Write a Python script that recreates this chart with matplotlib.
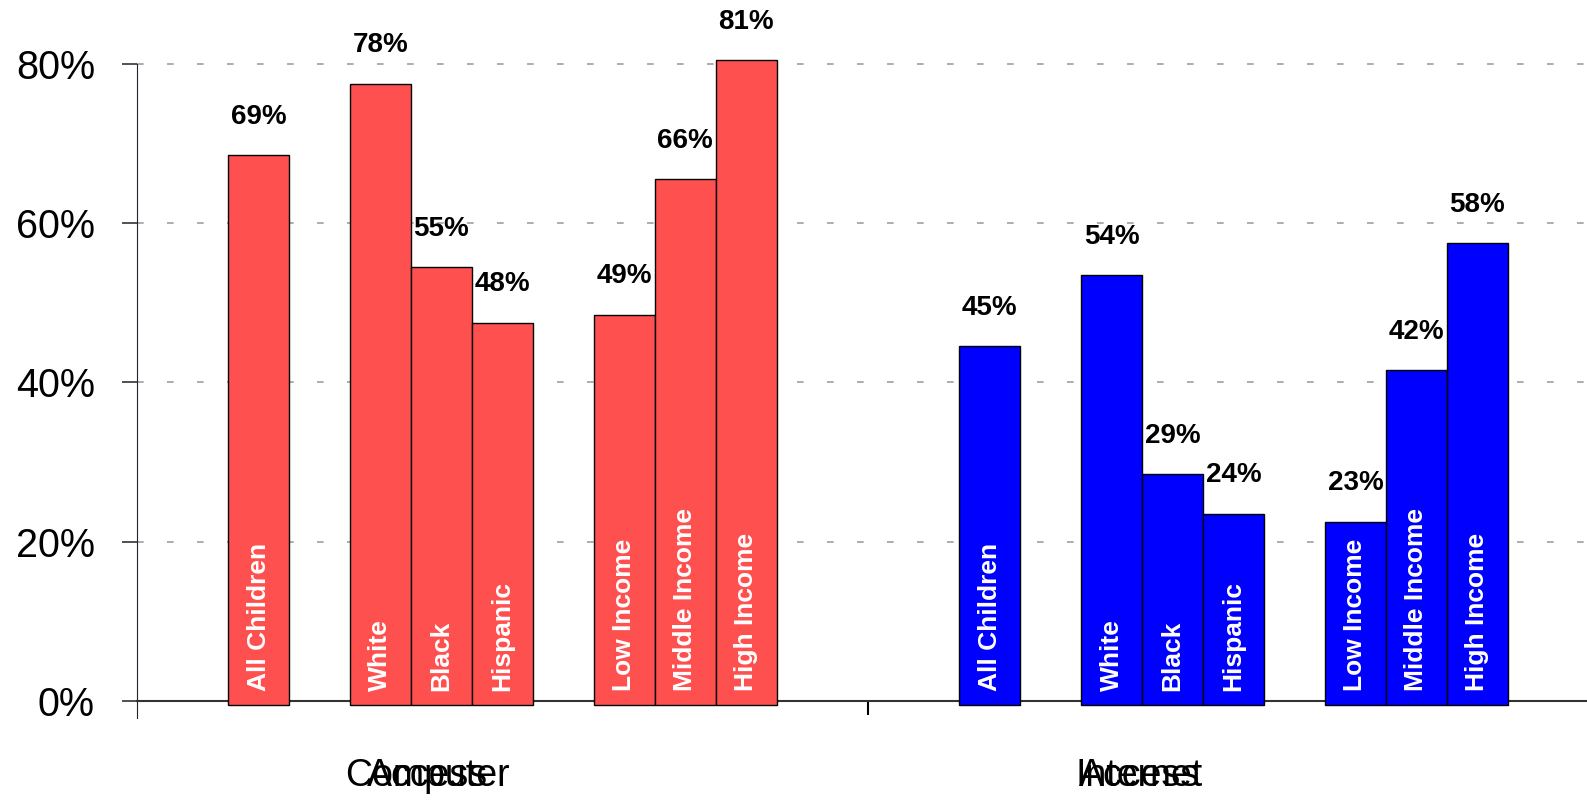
import matplotlib.pyplot as plt

plt.rcParams['font.family'] = ['Liberation Sans', 'DejaVu Sans']

# data
groups = ['Computer Access', 'Internet Access']
bar_labels = ['All Children', 'White', 'Black', 'Hispanic',
              'Low Income', 'Middle Income', 'High Income']
computer = [69, 78, 55, 48, 49, 66, 81]
internet = [45, 54, 29, 24, 23, 42, 58]
yticks = [0, 20, 40, 60, 80]
ytick_labels = ['0%', '20%', '40%', '60%', '80%']

colors = ['#FF5050', '#0000FF']
slots = [2, 4, 5, 6, 8, 9, 10]   # bar positions inside a group (gaps between sub-groups)

fig = plt.figure(figsize=(15.87, 8.01), dpi=100)
ax = fig.add_axes([0.0861, 0.1031, 0.9139, 0.877])

for g, (name, vals) in enumerate(zip(groups, [computer, internet])):
    xs = [s + 12 * g for s in slots]
    ax.bar(xs, vals, width=1.0, bottom=-0.5, color=colors[g],
           edgecolor='black', linewidth=1, zorder=3)
    for x, v, lab in zip(xs, vals, bar_labels):
        ax.text(x, v + 4.3, f'{v}%', ha='center', va='center',
                fontsize=20, fontweight='bold', color='black')
        ax.text(x, 1.3, lab, rotation=90, ha='center', va='bottom',
                fontsize=19, fontweight='bold', color='white', zorder=4)
    # the two words of the group label sit on top of each other, as in the original
    for word in name.split():
        ax.text(4.77 + 11.68 * g, -10.7, word, ha='center', va='baseline',
                fontsize=27, color='black')

ax.set_xlim(0, 23.8)
ax.set_ylim(-2.2, 86)

# dashed grid lines
for y in yticks[1:]:
    ax.axhline(y, color='#a0a0a0', linestyle=(0, (4, 14)), linewidth=1.2, zorder=1)

ax.spines['top'].set_visible(False)
ax.spines['right'].set_visible(False)
ax.spines['bottom'].set_position(('data', 0))
ax.spines['bottom'].set_color('#333333')
ax.spines['bottom'].set_linewidth(1.5)
ax.spines['left'].set_bounds(-2.2, 80)
ax.spines['left'].set_color('#222233')

ax.set_yticks(yticks)
ax.set_yticklabels(ytick_labels, fontsize=28.5)
ax.tick_params(axis='y', direction='out', length=11, width=1.2, pad=19, color='#333333')
ax.set_xticks([12])
ax.set_xticklabels([''])
ax.tick_params(axis='x', direction='out', length=10, width=1.5, color='black')

fig.savefig('out.png', dpi=100)
